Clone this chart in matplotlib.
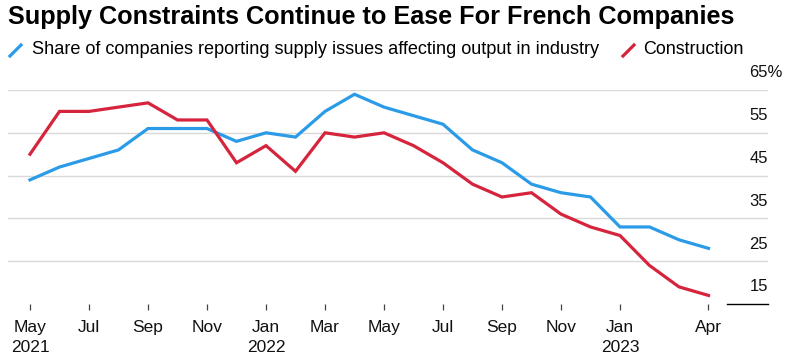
import matplotlib
matplotlib.use("Agg")
import matplotlib.pyplot as plt
from matplotlib.transforms import offset_copy

# monthly, May 2021 .. Apr 2023
industry = [44, 47, 49, 51, 56, 56, 56, 53, 55, 54, 60, 64,
            61, 59, 57, 51, 48, 43, 41, 40, 33, 33, 30, 28]
construction = [50, 60, 60, 61, 62, 58, 58, 48, 52, 46, 55, 54,
                55, 52, 48, 43, 40, 41, 36, 33, 31, 24, 19, 17]

tick_pos = [0, 2, 4, 6, 8, 10, 12, 14, 16, 18, 20, 23]
tick_labels = ["May\n2021", "Jul", "Sep", "Nov", "Jan\n2022", "Mar", "May",
               "Jul", "Sep", "Nov", "Jan\n2023", "Apr"]
y_levels = [15, 25, 35, 45, 55, 65]

blue = "#2b9be8"
red = "#d6243d"

W, H = 788, 362
fig = plt.figure(figsize=(W / 100, H / 100), dpi=100)

# axes box in pixels: x 8..768, y 90..304
left, right, top, bottom = 8, 768, 90, 304
ax = fig.add_axes([left / W, 1 - bottom / H, (right - left) / W, (bottom - top) / H])

xs = list(range(len(industry)))
ax.plot(xs, industry, color=blue, lw=2.3, solid_joinstyle="miter", zorder=3)
ax.plot(xs, construction, color=red, lw=2.3, solid_joinstyle="miter", zorder=3)

px_per_month = 29.5
ax.set_xlim(-(30 - left) / px_per_month, 23 + (right - 708.5) / px_per_month)
ax.set_ylim(15, 65)

for v in y_levels[1:]:
    ax.axhline(v, color="#d9d9d9", lw=1.0, zorder=1)
ax.plot([0.946, 1.0], [15, 15], color="black", lw=1.0, transform=ax.get_yaxis_transform(),
        clip_on=False)

for s in ax.spines.values():
    s.set_visible(False)
ax.set_yticks([])
ax.set_xticks(tick_pos)
ax.set_xticklabels(tick_labels, family="Liberation Sans", fontsize=12.5,
                   linespacing=1.45, color="#111111")
ax.tick_params(axis="x", length=4.5, width=0.9, color="#444444", pad=7)

for v in y_levels[:-1]:
    ax.text(1.0, v + 4, str(v), transform=ax.get_yaxis_transform(), ha="right",
            va="center", fontsize=12, family="Liberation Sans", color="#111111")
# top label carries the unit; keep its digits aligned with the others
pct_tr = offset_copy(ax.get_yaxis_transform(), fig=fig, x=10.7, y=0, units="points")
ax.text(1.0, y_levels[-1] + 4, f"{y_levels[-1]}%", transform=pct_tr, ha="right",
        va="center", fontsize=12, family="Liberation Sans", color="#111111")

fig.text(8 / W, 1 - 17 / H, "Supply Constraints Continue to Ease For French Companies",
         fontsize=18.2, fontweight="bold", family="Liberation Sans", va="center", ha="left")

# legend
ly = 1 - 50 / H
fig.lines.append(plt.Line2D([10 / W, 21 / W], [1 - 56 / H, 1 - 45 / H], color=blue,
                            lw=2.3, transform=fig.transFigure))
fig.text(32 / W, ly, "Share of companies reporting supply issues affecting output in industry",
         fontsize=13.1, family="Liberation Sans", va="center", ha="left")
fig.lines.append(plt.Line2D([623 / W, 634 / W], [1 - 56 / H, 1 - 45 / H], color=red,
                            lw=2.3, transform=fig.transFigure))
fig.text(643 / W, ly, "Construction", fontsize=12.9, family="Liberation Sans",
         va="center", ha="left")

fig.savefig("out.png", dpi=100)
